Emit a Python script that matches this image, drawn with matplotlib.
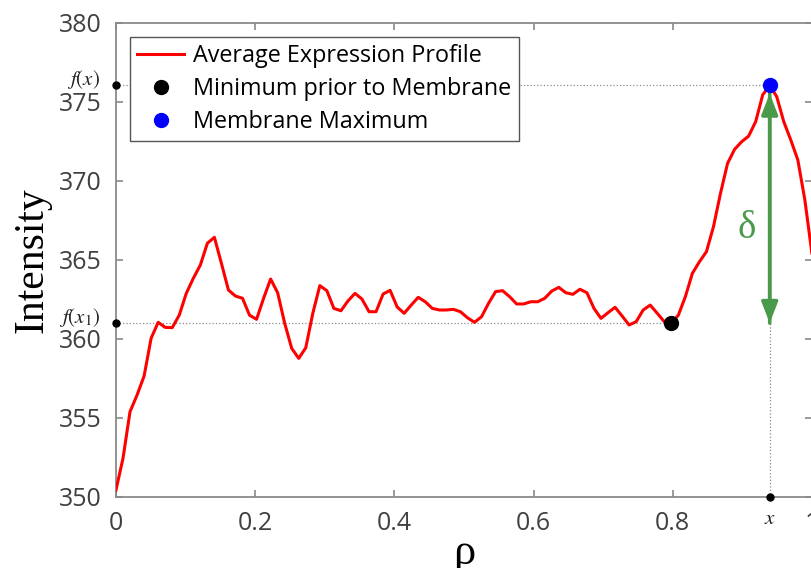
import numpy as np
import matplotlib.pyplot as plt
from matplotlib.patches import FancyArrowPatch

plt.rcParams['mathtext.fontset'] = 'stix'

# average expression profile, sampled on an even grid in rho
rho = np.linspace(0.0, 1.0, 100)
intensity = [350.44, 352.45, 355.40, 356.45, 357.65, 360.04, 361.05, 360.73, 360.71, 361.50,
             362.88, 363.83, 364.67, 366.05, 366.43, 364.78, 363.09, 362.71, 362.57, 361.50,
             361.24, 362.57, 363.79, 362.92, 360.99, 359.40, 358.77, 359.44, 361.62, 363.37,
             363.05, 361.93, 361.78, 362.40, 362.88, 362.52, 361.72, 361.72, 362.84, 363.07,
             362.02, 361.62, 362.14, 362.63, 362.35, 361.93, 361.83, 361.83, 361.87, 361.72,
             361.34, 361.05, 361.40, 362.25, 362.99, 363.05, 362.67, 362.21, 362.21, 362.35,
             362.35, 362.57, 363.03, 363.26, 362.92, 362.82, 363.14, 362.92, 361.93, 361.30,
             361.66, 362.00, 361.45, 360.88, 361.09, 361.83, 362.14, 361.62, 361.09, 361.00,
             361.50, 362.67, 364.15, 364.88, 365.52, 367.10, 369.21, 371.10, 371.99, 372.47,
             372.83, 373.74, 375.43, 376.05, 375.32, 373.74, 372.58, 371.32, 368.79, 365.42]
i_min, i_max = 79, 93
x_min, y_min = rho[i_min], intensity[i_min]
x_max, y_max = rho[i_max], intensity[i_max]

xticks = [0, 0.2, 0.4, 0.6, 0.8, 1]
xticklabels = ['0', '0.2', '0.4', '0.6', '0.8', '1']
yticks = [350, 355, 360, 365, 370, 375, 380]

tick_col = '#404040'
spine_col = '#8a8a8a'
dot_col = '#8c8c8c'
green = '#4b9a4b'

fig = plt.figure(figsize=(8.11, 5.68), dpi=100)
ax = fig.add_axes([0.143, 0.125, 0.8581, 0.835])

# guide lines
ax.plot([0, x_max], [y_max, y_max], ls=':', lw=0.9, color=dot_col, zorder=1)
ax.plot([0, x_min], [y_min, y_min], ls=':', lw=0.9, color=dot_col, zorder=1)
ax.plot([x_max, x_max], [350, y_min], ls=':', lw=0.9, color=dot_col, zorder=1)

line, = ax.plot(rho, intensity, color='red', lw=2.2, label='Average Expression Profile', zorder=3)
pmin, = ax.plot(x_min, y_min, 'o', color='black', ms=10, label='Minimum prior to Membrane', zorder=5)
pmax, = ax.plot(x_max, y_max, 'o', color='blue', ms=10, label='Membrane Maximum', zorder=5)

# delta arrow
arr = FancyArrowPatch((x_max, y_min), (x_max, y_max), arrowstyle='-|>,head_length=0.9,head_width=0.35',
                      mutation_scale=14, color=green, lw=2.6, shrinkA=0, shrinkB=6, zorder=4)
arr2 = FancyArrowPatch((x_max, y_max), (x_max, y_min), arrowstyle='-|>,head_length=0.9,head_width=0.35',
                       mutation_scale=14, color=green, lw=2.6, shrinkA=6, shrinkB=0, zorder=4)
ax.add_patch(arr)
ax.add_patch(arr2)
ax.text(0.907, 367.0, 'δ', color=green, fontsize=28, family='Liberation Serif',
        ha='center', va='center')

# markers and labels on the axes
ax.plot([0, 0, x_max], [y_max, y_min, 350], 'o', color='black', ms=5, clip_on=False, zorder=6)
ax.text(-0.023, y_max + 0.35, r'$f(x)$', fontsize=15, ha='right', va='center', color='#202020')
ax.text(-0.023, y_min + 0.35, r'$f(x_1)$', fontsize=15, ha='right', va='center', color='#202020')
ax.text(x_max, 348.7, r'$x$', fontsize=15, ha='center', va='center', color='#202020')

ax.set_xlim(0, 1)
ax.set_ylim(350, 380)
ax.set_xticks(xticks)
ax.set_xticklabels(xticklabels)
ax.set_yticks(yticks)
ax.tick_params(direction='in', length=5, width=1.2, color=spine_col, top=True, right=True,
               labelsize=18, labelcolor=tick_col, pad=10)
for lab in ax.get_xticklabels() + ax.get_yticklabels():
    lab.set_fontfamily('Open Sans')
for s in ax.spines.values():
    s.set_color(spine_col)
    s.set_linewidth(1.3)

ax.set_ylabel('Intensity', fontsize=30, family='Liberation Serif', labelpad=6)
ax.set_xlabel('ρ', fontsize=32, family='Liberation Serif', labelpad=-2)

leg = ax.legend(handles=[line, pmin, pmax], loc='upper left', bbox_to_anchor=(0.02, 0.9705),
                borderaxespad=0, fancybox=False, edgecolor='#555555', framealpha=1,
                prop={'family': 'Open Sans', 'size': 16.8}, handlelength=2.0, labelspacing=0.38,
                borderpad=0.32, handletextpad=0.4)
leg.get_frame().set_linewidth(1.0)

fig.savefig('out.png', dpi=100)
